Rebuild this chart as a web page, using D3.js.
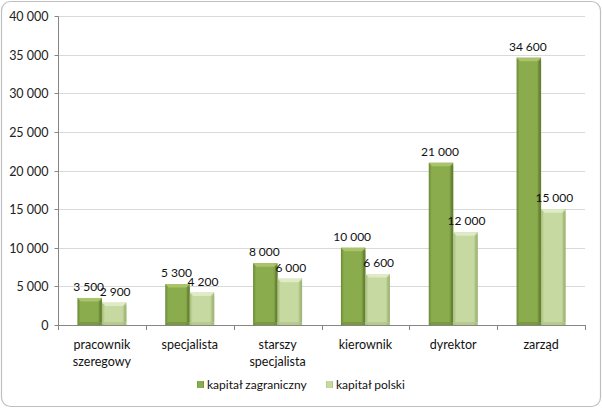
<!DOCTYPE html>
<html><head><meta charset="utf-8">
<script src="https://cdn.jsdelivr.net/npm/d3@7"></script>
<style>body{margin:0;background:#fff;} svg{display:block;font-family:Lato,"Open Sans",sans-serif;}</style>
</head><body>
<script>
const categories = [["pracownik","szeregowy"],["specjalista"],["starszy","specjalista"],["kierownik"],["dyrektor"],["zarząd"]];
const seriesNames = ["kapitał zagraniczny","kapitał polski"];
const foreign = [3500,5300,8000,10000,21000,34600];
const polish = [2900,4200,6000,6600,12000,15000];
const yTicks = [0,5000,10000,15000,20000,25000,30000,35000,40000];
const fmt = v => d3.format(",")(v).replace(/,/g," ");
const fmtNarrow = v => d3.format(",")(v).replace(/,/g,"\u2005");

const W=602,H=409;
const svg=d3.select("body").append("svg").attr("width",W).attr("height",H);
svg.append("rect").attr("x",1.5).attr("y",1.5).attr("width",W-3).attr("height",H-4).attr("rx",9)
  .attr("fill","#fff").attr("stroke","#bfbfbf").attr("stroke-width",1.2);

const defs=svg.append("defs");
function grad(id,edge,mid){
  const g=defs.append("linearGradient").attr("id",id).attr("x1","0").attr("x2","1");
  g.append("stop").attr("offset","0").attr("stop-color",edge);
  g.append("stop").attr("offset","0.12").attr("stop-color",mid);
  g.append("stop").attr("offset","0.82").attr("stop-color",mid);
  g.append("stop").attr("offset","1").attr("stop-color",edge);
}
grad("g0","#6a8834","#8aac4c");
grad("g1","#a3bb78","#c6d9a0");
const darkEdge=["#5d772d","#9cb274"];
const topHi=["#a9c46b","#dfeac6"];

const pLeft=58,pRight=585,pTop=16,pBottom=325;
const xg=d3.scaleBand().domain(d3.range(categories.length)).range([pLeft,pRight]);
const y=d3.scaleLinear().domain([0,40000]).range([pBottom,pTop]);

svg.append("g").selectAll("line").data(yTicks.slice(1)).join("line")
  .attr("x1",pLeft).attr("x2",pRight).attr("y1",d=>Math.round(y(d))+0.5).attr("y2",d=>Math.round(y(d))+0.5)
  .attr("stroke","#d9d9d9");

const ya=svg.append("g").attr("transform",`translate(${pLeft+0.5},0.5)`)
  .call(d3.axisLeft(y).tickValues(yTicks).tickFormat(fmtNarrow).tickSize(4).tickPadding(6));
ya.select(".domain").attr("stroke","#868686").attr("d",`M0,${pTop}V${pBottom}`);
ya.selectAll(".tick line").attr("stroke","#868686");
ya.selectAll(".tick text").attr("font-size",12.5).attr("fill","#222").attr("font-family","Lato");
ya.selectAll(".tick").attr("transform",d=>`translate(0,${Math.round(y(d))})`);

const barW=24.5;
const data=[];
categories.forEach((c,i)=>{
  const cx=xg(i)+xg.bandwidth()/2;
  [foreign[i],polish[i]].forEach((v,s)=>data.push({i,s,v,x0:s===0?cx-barW:cx}));
});
const bars=svg.append("g").selectAll("g").data(data).join("g");
bars.append("rect").attr("x",d=>d.x0).attr("width",barW).attr("y",d=>y(d.v)).attr("height",d=>pBottom-y(d.v))
  .attr("fill",d=>`url(#g${d.s})`);
bars.append("path").attr("d",d=>{const x0=d.x0,yt=y(d.v),b=3.5;return `M${x0},${yt}H${x0+barW}L${x0+barW-b},${yt+b}H${x0+b}Z`;})
  .attr("fill",d=>topHi[d.s]);
bars.append("path").attr("d",d=>{const x0=d.x0,b=3;return `M${x0},${pBottom}H${x0+barW}L${x0+barW-b},${pBottom-b}H${x0+b}Z`;})
  .attr("fill",d=>darkEdge[d.s]).attr("opacity",0.35);
bars.append("rect").attr("x",d=>d.x0+barW-2.5).attr("width",2.5).attr("y",d=>y(d.v)+3).attr("height",d=>Math.max(0,pBottom-y(d.v)-6))
  .attr("fill",d=>darkEdge[d.s]).attr("opacity",0.55);

svg.append("g").selectAll("text").data(data).join("text")
  .attr("x",d=>d.x0+barW/2+(d.s?1:-1)).attr("y",d=>y(d.v)-7).attr("text-anchor","middle")
  .attr("font-size",12).attr("fill","#111").text(d=>fmtNarrow(d.v));

svg.append("line").attr("x1",pLeft).attr("x2",pRight).attr("y1",pBottom+0.5).attr("y2",pBottom+0.5).attr("stroke","#868686");
svg.append("g").selectAll("line").data(d3.range(categories.length+1)).join("line")
  .attr("x1",i=>Math.round(pLeft+i*xg.bandwidth())+0.5).attr("x2",i=>Math.round(pLeft+i*xg.bandwidth())+0.5)
  .attr("y1",pBottom).attr("y2",pBottom+5).attr("stroke","#868686");
const cl=svg.append("g").selectAll("text").data(categories).join("text")
  .attr("text-anchor","middle").attr("font-size",12.5).attr("fill","#111")
  .attr("x",(d,i)=>xg(i)+xg.bandwidth()/2).attr("y",349);
cl.selectAll("tspan").data(d=>d).join("tspan").attr("x",function(){return this.parentNode.getAttribute("x");})
  .attr("dy",(d,j)=>j?17:0).text(d=>d);

const lg=svg.append("g");
const legX=[197,326];
seriesNames.forEach((n,s)=>{
  lg.append("rect").attr("x",legX[s]).attr("y",381).attr("width",7).attr("height",7).attr("fill",`url(#g${s})`);
  lg.append("text").attr("x",legX[s]+10).attr("y",389).attr("font-size",12).attr("fill","#111").text(n);
});
</script>
</body></html>
